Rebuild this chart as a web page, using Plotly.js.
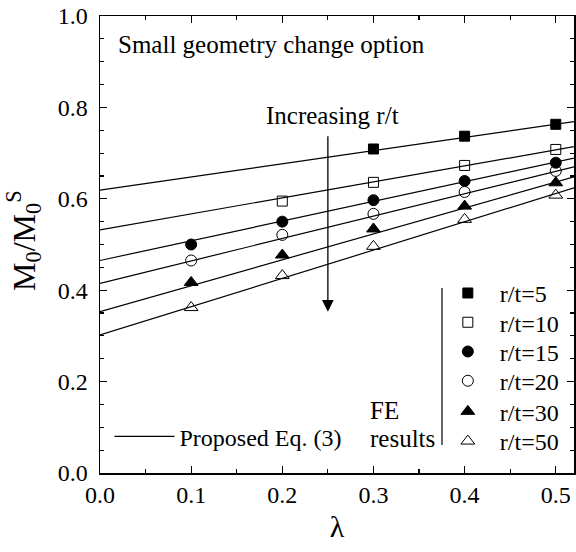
<!DOCTYPE html>
<html>
<head>
<meta charset="utf-8">
<script src="https://cdn.plot.ly/plotly-3.0.1.min.js"></script>
<style>html,body{margin:0;padding:0;background:#fff;}#chart{width:576px;height:552px;}</style>
</head>
<body>
<div id="chart"></div>
<script>
// FE results
const lambdaFE = [0.1, 0.2, 0.3, 0.4, 0.5];
const fe_rt5  = [null, null, 0.709, 0.737, 0.763];
const fe_rt10 = [null, 0.595, 0.636, 0.673, 0.708];
const fe_rt15 = [0.500, 0.550, 0.597, 0.639, 0.679];
const fe_rt20 = [0.465, 0.521, 0.567, 0.615, 0.661];
const fe_rt30 = [0.417, 0.477, 0.534, 0.584, 0.635];
const fe_rt50 = [0.362, 0.432, 0.496, 0.555, 0.608];
// Proposed Eq. (3)
const lambdaEq = [0, 0.52];
const eq_rt5  = [0.619, 0.769];
const eq_rt10 = [0.532, 0.714];
const eq_rt15 = [0.465, 0.689];
const eq_rt20 = [0.415, 0.670];
const eq_rt30 = [0.353, 0.648];
const eq_rt50 = [0.302, 0.624];
const seriesNames = ['r/t=5','r/t=10','r/t=15','r/t=20','r/t=30','r/t=50'];
const xTicks = [0, 0.1, 0.2, 0.3, 0.4, 0.5];
const yTicks = [0, 0.2, 0.4, 0.6, 0.8, 1.0];

const FONT = "Liberation Serif";
const feData = [fe_rt5, fe_rt10, fe_rt15, fe_rt20, fe_rt30, fe_rt50];
const eqData = [eq_rt5, eq_rt10, eq_rt15, eq_rt20, eq_rt30, eq_rt50];
const symbols = ['square','square-open','circle','circle-open','triangle-up','triangle-up-open'];
const sizes = [10, 10, 11, 11, 12, 12];
const legendY = [0.393, 0.329, 0.265, 0.201, 0.134, 0.069];

const traces = [];
eqData.forEach((y, i) => {
  traces.push({
    x: lambdaEq, y: y, mode: 'lines', type: 'scatter',
    line: {color: '#000', width: 1.2},
    name: 'Proposed Eq. (3)',
    showlegend: i === 0, legend: 'legend7', hoverinfo: 'skip'
  });
});
feData.forEach((y, i) => {
  traces.push({
    x: lambdaFE, y: y, mode: 'markers', type: 'scatter',
    marker: {symbol: symbols[i], size: sizes[i], color: '#000', line: {color: '#000', width: 1}},
    name: seriesNames[i], showlegend: true,
    legend: i === 0 ? 'legend' : 'legend' + (i + 1)
  });
});

const layout = {
  width: 576, height: 552,
  margin: {l: 100, r: 2, t: 16, b: 79},
  paper_bgcolor: '#fff', plot_bgcolor: '#fff',
  font: {family: FONT, color: '#000', size: 23},
  xaxis: {
    range: [0, 0.52], tickvals: xTicks, tickformat: '.1f',
    showline: true, linecolor: '#000', linewidth: 1.5, mirror: 'allticks',
    ticks: 'inside', ticklen: 7, tickwidth: 1.2, tickcolor: '#000',
    minor: {dtick: 0.05, ticks: 'inside', ticklen: 4, tickwidth: 1.2, tickcolor: '#000'},
    showgrid: false, zeroline: false,
    tickfont: {family: FONT, size: 24},
    title: {text: 'λ', font: {family: FONT, size: 30}, standoff: 8}
  },
  yaxis: {
    range: [0, 1.0], tickvals: yTicks, tickformat: '.1f',
    showline: true, linecolor: '#000', linewidth: 1.5, mirror: 'allticks',
    ticks: 'inside', ticklen: 7, tickwidth: 1.2, tickcolor: '#000',
    minor: {dtick: 0.05, ticks: 'inside', ticklen: 4, tickwidth: 1.2, tickcolor: '#000'},
    showgrid: false, zeroline: false,
    tickfont: {family: FONT, size: 24},
    ticklabelstandoff: 6
  },
  annotations: [
    {xref: 'paper', yref: 'paper', x: 0.034, y: 0.9387, xanchor: 'left', yanchor: 'middle',
     text: 'Small geometry change option', showarrow: false, font: {family: FONT, size: 25}},
    {xref: 'paper', yref: 'paper', x: 0.346, y: 0.783, xanchor: 'left', yanchor: 'middle',
     text: 'Increasing r/t', showarrow: false, font: {family: FONT, size: 25}},
    {xref: 'x', yref: 'y', x: 0.25, y: 0.353, axref: 'x', ayref: 'y', ax: 0.25, ay: 0.74,
     text: '', showarrow: true, arrowhead: 2, arrowsize: 1.8, arrowwidth: 1.3, arrowcolor: '#000', standoff: 0},
    {xref: 'paper', yref: 'paper', x: 0.566, y: 0.137, xanchor: 'left', yanchor: 'middle',
     text: 'FE', showarrow: false, font: {family: FONT, size: 25}},
    {xref: 'paper', yref: 'paper', x: 0.566, y: 0.076, xanchor: 'left', yanchor: 'middle',
     text: 'results', showarrow: false, font: {family: FONT, size: 25}},
    {xref: 'paper', yref: 'paper', x: -0.16, y: 0.508, xanchor: 'center', yanchor: 'middle',
     text: 'M<sub>0</sub>/M<sub>0</sub><sup>S</sup>', textangle: -90, showarrow: false, font: {family: FONT, size: 32}}
  ],
  shapes: [
    {type: 'line', xref: 'paper', yref: 'paper', x0: 0.7215, x1: 0.7215, y0: 0.061, y1: 0.405,
     line: {color: '#000', width: 1.2}}
  ]
};

const legBase = {bgcolor: 'rgba(0,0,0,0)', borderwidth: 0, font: {family: FONT, size: 24},
  xanchor: 'left', yanchor: 'middle', itemwidth: 54, tracegroupgap: 0};
layout.legend = Object.assign({}, legBase, {x: 0.7085, y: legendY[0]});
for (let i = 1; i < 6; i++) {
  layout['legend' + (i + 1)] = Object.assign({}, legBase, {x: 0.7085, y: legendY[i]});
}
layout.legend7 = Object.assign({}, legBase, {x: 0.02, y: 0.0794, itemwidth: 60});

Plotly.newPlot('chart', traces, layout, {staticPlot: true});
</script>
</body>
</html>
